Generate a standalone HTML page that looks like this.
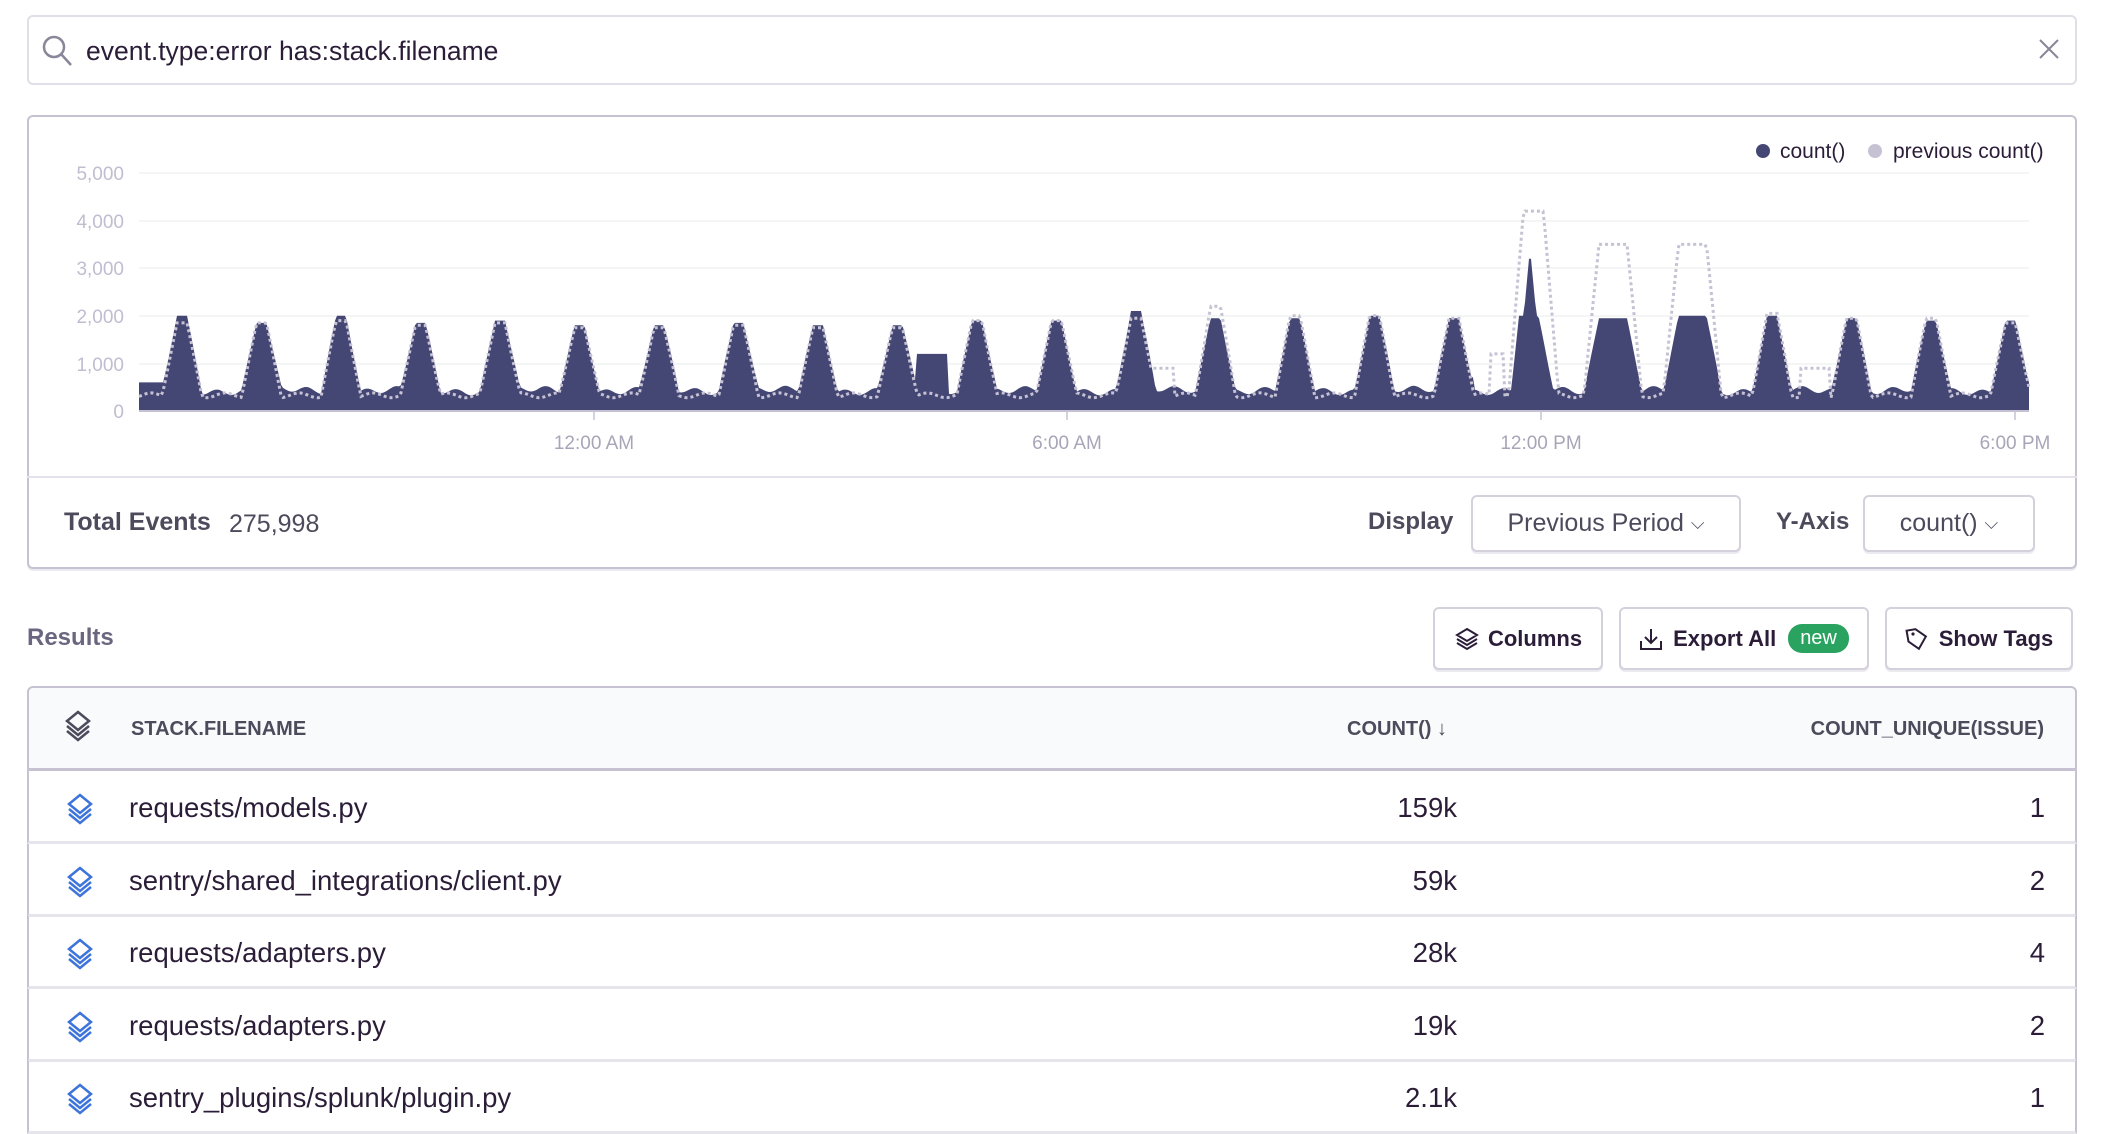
<!DOCTYPE html>
<html><head><meta charset="utf-8">
<style>
*{box-sizing:border-box;margin:0;padding:0}
body{width:2110px;height:1102px;background:#fff;font-family:"Liberation Sans",sans-serif;color:#2b1d38;position:relative;overflow:hidden}
.abs{position:absolute}
.search{left:27px;top:15px;width:2050px;height:70px;border:2px solid #e2dee8;border-radius:6px}
.card{left:27px;top:115px;width:2050px;height:454px;border:2px solid #c6c2d2;border-radius:6px;box-shadow:0 2px 0 #eceaf1}
.btn{border:2px solid #d4d0dc;border-radius:6px;box-shadow:0 2px 0 #eceaf1;background:#fff;display:flex;align-items:center;justify-content:center;font-size:22px}
.row{left:27px;width:2050px;height:73px;border-bottom:3px solid #e7e5ec;border-left:2px solid #c6c2d2;border-right:2px solid #c6c2d2}
.row .n{position:absolute;left:100px;top:0;line-height:73px;font-size:27.5px}
.row .c{position:absolute;right:618px;line-height:73px;font-size:27.5px}
.row .u{position:absolute;right:30px;line-height:73px;font-size:27.5px}
.row svg{position:absolute;left:36px;top:22px}
</style></head><body>
<div class="abs search"></div>
<svg class="abs" style="left:40px;top:33px" width="34" height="36"><circle cx="14" cy="14" r="10" fill="none" stroke="#8a8598" stroke-width="2.5"/><line x1="21" y1="21" x2="31" y2="32" stroke="#8a8598" stroke-width="2.5"/></svg>
<div class="abs" style="left:86px;top:36px;font-size:26.5px;color:#2b1d38">event.type:error has:stack.filename</div>
<svg class="abs" style="left:2039px;top:39px" width="20" height="20"><path d="M1 1L19 19M19 1L1 19" stroke="#8a8598" stroke-width="2"/></svg>

<div class="abs card"></div>
<div class="abs" style="left:27px;top:476px;width:2050px;height:2px;background:#e4e1ea"></div>
<svg class="abs" style="left:0;top:0" width="2110" height="480" id="ch">
<g font-size="19" fill="#c1bdd0" text-anchor="end" font-family="Liberation Sans">
<text x="124" y="180">5,000</text><text x="124" y="228">4,000</text><text x="124" y="275">3,000</text><text x="124" y="323">2,000</text><text x="124" y="371">1,000</text><text x="124" y="418">0</text>
</g>
<g stroke="#f1f3f4" stroke-width="1.5">
<line x1="139" x2="2029" y1="173" y2="173"/><line x1="139" x2="2029" y1="221" y2="221"/><line x1="139" x2="2029" y1="268" y2="268"/><line x1="139" x2="2029" y1="316" y2="316"/><line x1="139" x2="2029" y1="364" y2="364"/>
</g>
<path id="cur" fill="#444674"/>
<path id="prev" fill="none" stroke="#c6c2d4" stroke-width="3" stroke-dasharray="3 3"/>
<line x1="139" x2="2029" y1="411" y2="411" stroke="#c6c2d2" stroke-width="2"/>
<g stroke="#c6c2d2" stroke-width="1.5"><line x1="594" x2="594" y1="411" y2="420"/><line x1="1067" x2="1067" y1="411" y2="420"/><line x1="1541" x2="1541" y1="411" y2="420"/><line x1="2015" x2="2015" y1="411" y2="420"/></g>
<g font-size="19" fill="#a9a5b8" text-anchor="middle" font-family="Liberation Sans">
<text x="594" y="449">12:00 AM</text><text x="1067" y="449">6:00 AM</text><text x="1541" y="449">12:00 PM</text><text x="2015" y="449">6:00 PM</text>
</g>
<circle cx="1763" cy="151" r="7" fill="#444674"/><text x="1780" y="158" font-size="21" fill="#2b1d38" font-family="Liberation Sans">count()</text>
<circle cx="1875" cy="151" r="7" fill="#c6c2d4"/><text x="1893" y="158" font-size="21" fill="#2b1d38" font-family="Liberation Sans">previous count()</text>
</svg>
<div class="abs" style="left:64px;top:508px;font-size:25px;font-weight:bold;color:#4d4a5c">Total Events</div>
<div class="abs" style="left:229px;top:510px;font-size:25px;color:#4d4a5c">275,998</div>
<div class="abs" style="left:1368px;top:508px;font-size:24px;font-weight:bold;color:#4d4a5c">Display</div>
<div class="abs btn" style="left:1471px;top:495px;width:270px;height:57px;color:#4d4a5c;font-size:25px">Previous Period&nbsp;<span style="font-size:18px">⌵</span></div>
<div class="abs" style="left:1776px;top:508px;font-size:24px;font-weight:bold;color:#4d4a5c">Y-Axis</div>
<div class="abs btn" style="left:1863px;top:495px;width:172px;height:57px;color:#4d4a5c;font-size:25px">count()&nbsp;<span style="font-size:18px">⌵</span></div>

<div class="abs" style="left:27px;top:624px;font-size:24px;font-weight:bold;color:#6b6680">Results</div>
<div class="abs btn" style="left:1433px;top:607px;width:170px;height:63px;font-weight:bold"><svg width="26" height="24" style="margin-right:8px"><path d="M13 2L23 8L13 14L3 8Z M3 12L13 18L23 12 M3 16L13 22L23 16" fill="none" stroke="#2b1d38" stroke-width="2"/></svg>Columns</div>
<div class="abs btn" style="left:1619px;top:607px;width:250px;height:63px;font-weight:bold"><svg width="24" height="24" style="margin-right:10px"><path d="M12 2V16M6 10L12 16L18 10M2 14V22H22V14" fill="none" stroke="#2b1d38" stroke-width="2"/></svg>Export All<span style="margin-left:12px;background:#2ba360;color:#fff;font-weight:normal;border-radius:14px;padding:3px 12px;font-size:20px">new</span></div>
<div class="abs btn" style="left:1885px;top:607px;width:188px;height:63px;font-weight:bold"><svg width="24" height="26" style="margin-right:10px"><path d="M3 3H12L21 12L12 23L3 14Z" fill="none" stroke="#2b1d38" stroke-width="2" transform="rotate(-10 12 12)"/><circle cx="8" cy="8" r="1.6" fill="#2b1d38"/></svg>Show Tags</div>

<div class="abs" style="left:27px;top:686px;width:2050px;height:85px;background:#f8fafb;border:2px solid #c6c2d2;border-bottom:3px solid #c6c2d2;border-radius:6px 6px 0 0"></div>
<svg class="abs" style="left:63px;top:710px" width="30" height="34"><path d="M15 2L26 11L15 20L4 11Z M4 16L15 25L26 16 M4 21L15 30L26 21" fill="none" stroke="#4d4a5c" stroke-width="2.5"/></svg>
<div class="abs" style="left:131px;top:718px;font-size:20px;font-weight:bold;color:#4d4a5c">STACK.FILENAME</div>
<div class="abs" style="left:1347px;top:718px;font-size:20px;font-weight:bold;color:#4d4a5c">COUNT() ↓</div>
<div class="abs" style="right:66px;top:718px;font-size:20px;font-weight:bold;color:#4d4a5c">COUNT_UNIQUE(ISSUE)</div>

<div id="rows"></div>
<script>
var rows=[["requests/models.py","159k","1"],["sentry/shared_integrations/client.py","59k","2"],["requests/adapters.py","28k","4"],["requests/adapters.py","19k","2"],["sentry_plugins/splunk/plugin.py","2.1k","1"]];
var icon='<svg width="30" height="34"><path d="M15 2L26 11L15 20L4 11Z M4 16L15 25L26 16 M4 21L15 30L26 21" fill="none" stroke="#3d74db" stroke-width="2.5"/></svg>';
var h='';rows.forEach(function(r,i){h+='<div class="abs row" style="top:'+(771+i*72.5)+'px">'+icon+'<div class="n">'+r[0]+'</div><div class="c">'+r[1]+'</div><div class="u">'+r[2]+'</div></div>';});
document.getElementById('rows').innerHTML=h;
var X0=139,X1=2029,Y0=411,K=0.0476;
var cp=[2000,1850,2000,1850,1900,1800,1800,1850,1800,1800,1900,1900,2100,1950,1950,2000,1950,2000,1950,2000,2000,1950,1900,1900];
var pp=[1850,1850,1900,1800,1850,1750,1750,1800,1750,1750,1900,1900,1950,2200,2000,2000,1950,4200,3500,3500,2050,1950,1950,1850];
function shape(d,top,hw,sl,base){d=Math.abs(d);if(d<=hw)return top;if(d<hw+sl)return top-(top-base)*(d-hw)/sl;return base;}
function val(x,arr,cur){var base=cur?430+60*Math.sin(x*0.21)+40*Math.sin(x*0.05):330+50*Math.sin(x*0.17+1);
 var v=base;
 for(var i=0;i<24;i++){var c=182+i*79.5;var hw=(i==18||i==19)?14:5;var sl=15;
  if(!cur&&(i==17))hw=10;
  v=Math.max(v,shape(x-c,arr[i],hw,sl,base));}
 if(cur){ if(x<165)v=Math.max(v,600);
  if(x>915&&x<948)v=Math.max(v,1200);
  v=Math.max(v,shape(x-1525,2000,6,8,base));
  v=Math.max(v,shape(x-1530,3200,1,12,base));
  if(x>1460&&x<1475)v=Math.max(v,700);
  if(x>2018)v=Math.max(v,600);}
 else{ if(x>1150&&x<1175)v=Math.max(v,900);
  if(x>1490&&x<1505)v=Math.max(v,1200);
  if(x>1800&&x<1830)v=Math.max(v,900);}
 return Y0-v*K;}
var c='M'+X0+' '+Y0,p='';
for(var x=X0;x<=X1;x+=2){c+=' L'+x+' '+val(x,cp,1).toFixed(1);p+=(p?' L':'M')+x+' '+val(x,pp,0).toFixed(1);}
c+=' L'+X1+' '+Y0+'Z';
document.getElementById('cur').setAttribute('d',c);document.getElementById('prev').setAttribute('d',p);
</script>
</body></html>
